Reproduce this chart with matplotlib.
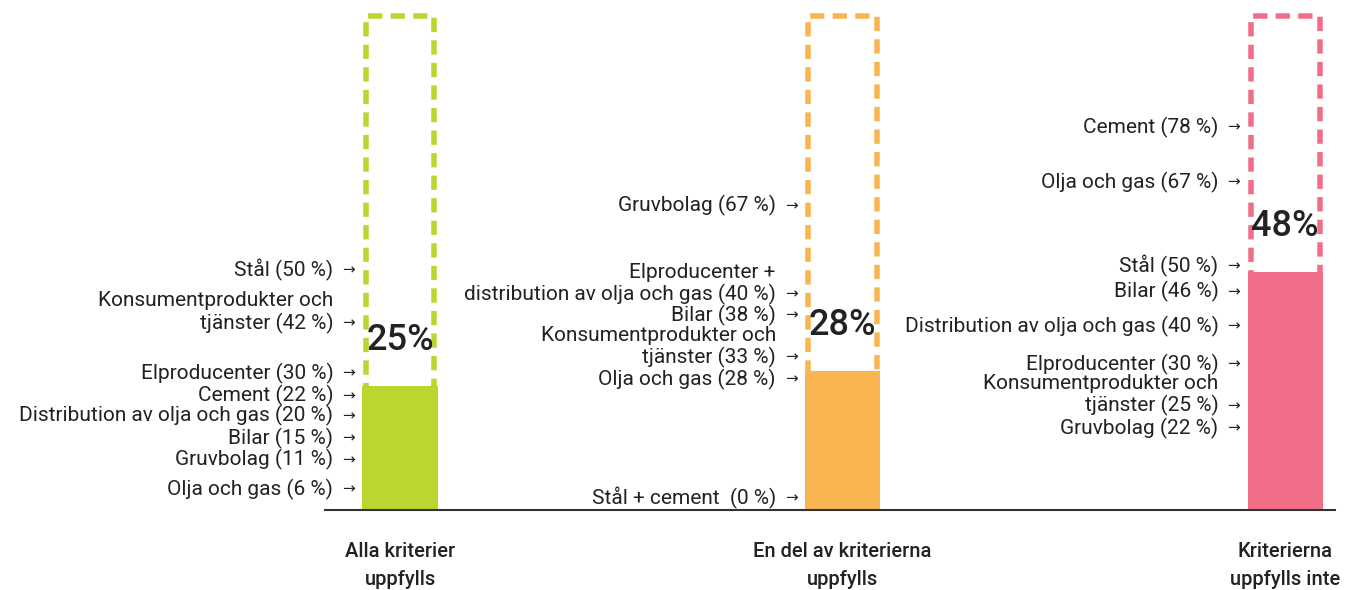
import matplotlib
matplotlib.use("Agg")
import matplotlib.pyplot as plt

# data
categories = ["Alla kriterier\nuppfylls", "En del av kriterierna\nuppfylls", "Kriterierna\nuppfylls inte"]
shares = [25, 28, 48]
colors = ["#bcd630", "#f9b552", "#f06e88"]

sectors_1 = ["Stål", "Konsumentprodukter och\ntjänster", "Elproducenter", "Cement",
             "Distribution av olja och gas", "Bilar", "Gruvbolag", "Olja och gas"]
values_1 = [50, 42, 30, 22, 20, 15, 11, 6]

sectors_2 = ["Gruvbolag", "Elproducenter +\ndistribution av olja och gas", "Bilar",
             "Konsumentprodukter och\ntjänster", "Olja och gas", "Stål + cement "]
values_2 = [67, 40, 38, 33, 28, 0]

sectors_3 = ["Cement", "Olja och gas", "Stål", "Bilar", "Distribution av olja och gas",
             "Elproducenter", "Konsumentprodukter och\ntjänster", "Gruvbolag"]
values_3 = [78, 67, 50, 46, 40, 30, 25, 22]

# label heights (spread so they don't overlap)
label_y_1 = [48.4, 37.7, 27.6, 23.0, 19.0, 14.5, 10.1, 4.2]
label_y_2 = [61.3, 43.5, 39.3, 30.8, 26.4, 2.4]
label_y_3 = [77.2, 66.1, 49.2, 44.0, 37.1, 29.4, 21.0, 16.5]

sectors = [sectors_1, sectors_2, sectors_3]
values = [values_1, values_2, values_3]
label_y = [label_y_1, label_y_2, label_y_3]

plt.rcParams['font.family'] = ['Roboto', 'DejaVu Sans']
text_color = "#222222"

fig = plt.figure(figsize=(13.64, 5.90), dpi=100)
ax = fig.add_axes([0, 0, 1, 1])
ax.set_xlim(-0.904, 2.178)
ax.set_ylim(-16.13, 102.82)
ax.axis("off")

bar_w = 0.17
lw_px = 5.5
px_x = 1 / 442.5
x = [0, 1, 2]

ax.bar(x, shares, width=bar_w, color=colors, zorder=3)

for i in range(3):
    left = x[i] - bar_w / 2 + (lw_px / 2 + 0.5) * px_x
    right = x[i] + bar_w / 2 - (lw_px / 2 + 0.5) * px_x
    ax.plot([left, left, right, right], [0, 100 - 0.5, 100 - 0.5, 0], color=colors[i],
            lw=lw_px * 0.72, linestyle=(0, (2.6, 1.5)), solid_capstyle="butt",
            dash_capstyle="butt", zorder=2)

    # big percentage
    ax.annotate(f"{shares[i]}%", (x[i], shares[i]), xytext=(0, 33), textcoords="offset points",
                ha="center", va="center", fontsize=26, fontweight="medium", color=text_color, zorder=4)

    # sector labels with arrows
    bar_left = x[i] - bar_w / 2
    for name, v, ly in zip(sectors[i], values[i], label_y[i]):
        lines = name.split("\n")
        lines[-1] = f"{lines[-1]} ({v} %)"
        for k, line in enumerate(reversed(lines)):
            ax.annotate(line, (bar_left, ly), xytext=(-21, 16 * k), textcoords="offset points",
                        ha="right", va="center", fontsize=15, color=text_color)
        ax.annotate("→", (bar_left, ly), xytext=(-10, 0), textcoords="offset points",
                    ha="center", va="center", fontsize=11, color=text_color, family="DejaVu Sans")

    # category label
    ax.text(x[i], -6.5, categories[i], ha="center", va="top", fontsize=14.5, fontweight="medium",
            color=text_color, linespacing=1.6)

ax.axhline(0, xmin=325 / 1364, xmax=1335 / 1364, color="#333333", lw=1.5, zorder=4)

fig.savefig("out.png", dpi=100)
